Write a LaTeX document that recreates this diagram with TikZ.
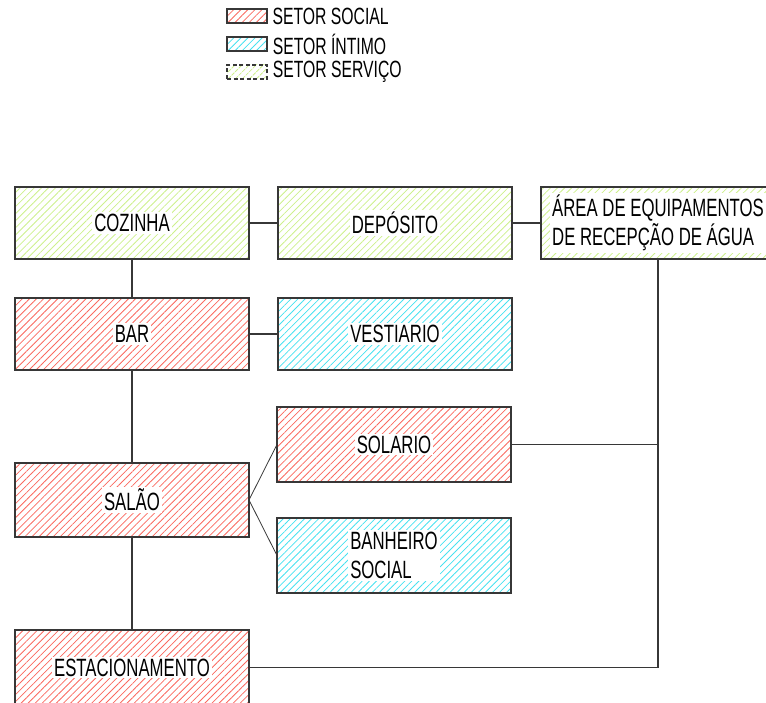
\documentclass[tikz,border=0pt]{standalone}
\usepackage{fontspec}
\setmainfont{Liberation Sans}[FakeStretch=0.67]
\usetikzlibrary{positioning,patterns.meta}

\definecolor{socialred}{RGB}{250,105,95}
\definecolor{intimocyan}{RGB}{70,225,240}
\definecolor{servicogreen}{RGB}{205,240,140}
\definecolor{linegray}{RGB}{55,55,55}

\begin{document}
\begin{tikzpicture}[%
    x=1pt,
    y=-1pt,
    hatch/.style={%
      pattern={Lines[angle=45,distance=5pt,line width=0.8pt]}
    },
    sector/.style={%
      rectangle,
      minimum width=234pt,
      minimum height=72pt,
      inner sep=0pt,
      outer sep=0pt,
      draw=linegray,
      line width=1.6pt,
      hatch
    },
    social/.style={sector, pattern color=socialred},
    intimo/.style={sector, pattern color=intimocyan},
    servico/.style={sector, pattern color=servicogreen},
    lbl/.style={%
      fill=white,
      inner sep=2pt,
      align=left,
      font=\fontsize{25}{29}\selectfont
    },
    link/.style={draw=linegray, line width=1.4pt},
    swatch/.style={%
      rectangle,
      minimum width=40pt,
      minimum height=14pt,
      inner sep=0pt,
      draw=linegray,
      line width=1.2pt,
      hatch
    },
    key/.style={%
      anchor=west,
      inner sep=0pt,
      font=\fontsize{23.5}{26}\selectfont
    }
  ]
    \useasboundingbox (0,0) rectangle (766,703);
    \clip (0,0) rectangle (766,703);

    % legenda
    \node[swatch, pattern color=socialred] (kSocial) at (247,16) {};
    \node[key, right=5pt of kSocial] (tSocial) {SETOR SOCIAL};
    \node[swatch, pattern color=intimocyan] (kIntimo) at (247,44) {};
    \node[key, right=5pt of kIntimo] (tIntimo) {SETOR ÍNTIMO};
    \node[swatch, pattern color=servicogreen, dash pattern=on 4pt off 2.5pt] (kServico) at (247,72) {};
    \node[key, right=5pt of kServico] (tServico) {SETOR SERVIÇO};

    % setores
    \node[servico, label={[lbl]center:COZINHA}] (cozinha) at (132,223) {};
    \node[servico, label={[lbl]center:DEPÓSITO}] (deposito) at (395,223) {};
    \node[servico, label={[lbl]center:ÁREA DE EQUIPAMENTOS\\DE RECEPÇÃO DE ÁGUA}] (agua) at (658,223) {};
    \node[social, label={[lbl]center:BAR}] (bar) at (132,334) {};
    \node[intimo, label={[lbl]center:VESTIARIO}] (vestiario) at (395,334) {};
    \node[social, minimum height=75pt, label={[lbl]center:SOLARIO}] (solario) at (394,444.5) {};
    \node[social, minimum height=74pt, label={[lbl]center:SALÃO}] (salao) at (132,500) {};
    \node[intimo, minimum height=75pt, label={[lbl]center:BANHEIRO\\SOCIAL}] (banheiro) at (394,555.5) {};
    \node[social, minimum height=75pt, label={[lbl]center:ESTACIONAMENTO}] (estac) at (132,667.5) {};

    \path (cozinha) edge[link] (deposito)
          (deposito) edge[link] (agua)
          (cozinha) edge[link] (bar)
          (bar) edge[link] (vestiario)
          (bar) edge[link] (salao)
          (salao) edge[link] (estac);
    \draw[linegray, line width=0.8pt] (salao.east) -- (solario.west);
    \draw[linegray, line width=0.8pt] (salao.east) -- (banheiro.west);
    \draw[link] (solario) -- (solario -| agua);
    \draw[link] (agua) |- (estac);
\end{tikzpicture}
\end{document}
